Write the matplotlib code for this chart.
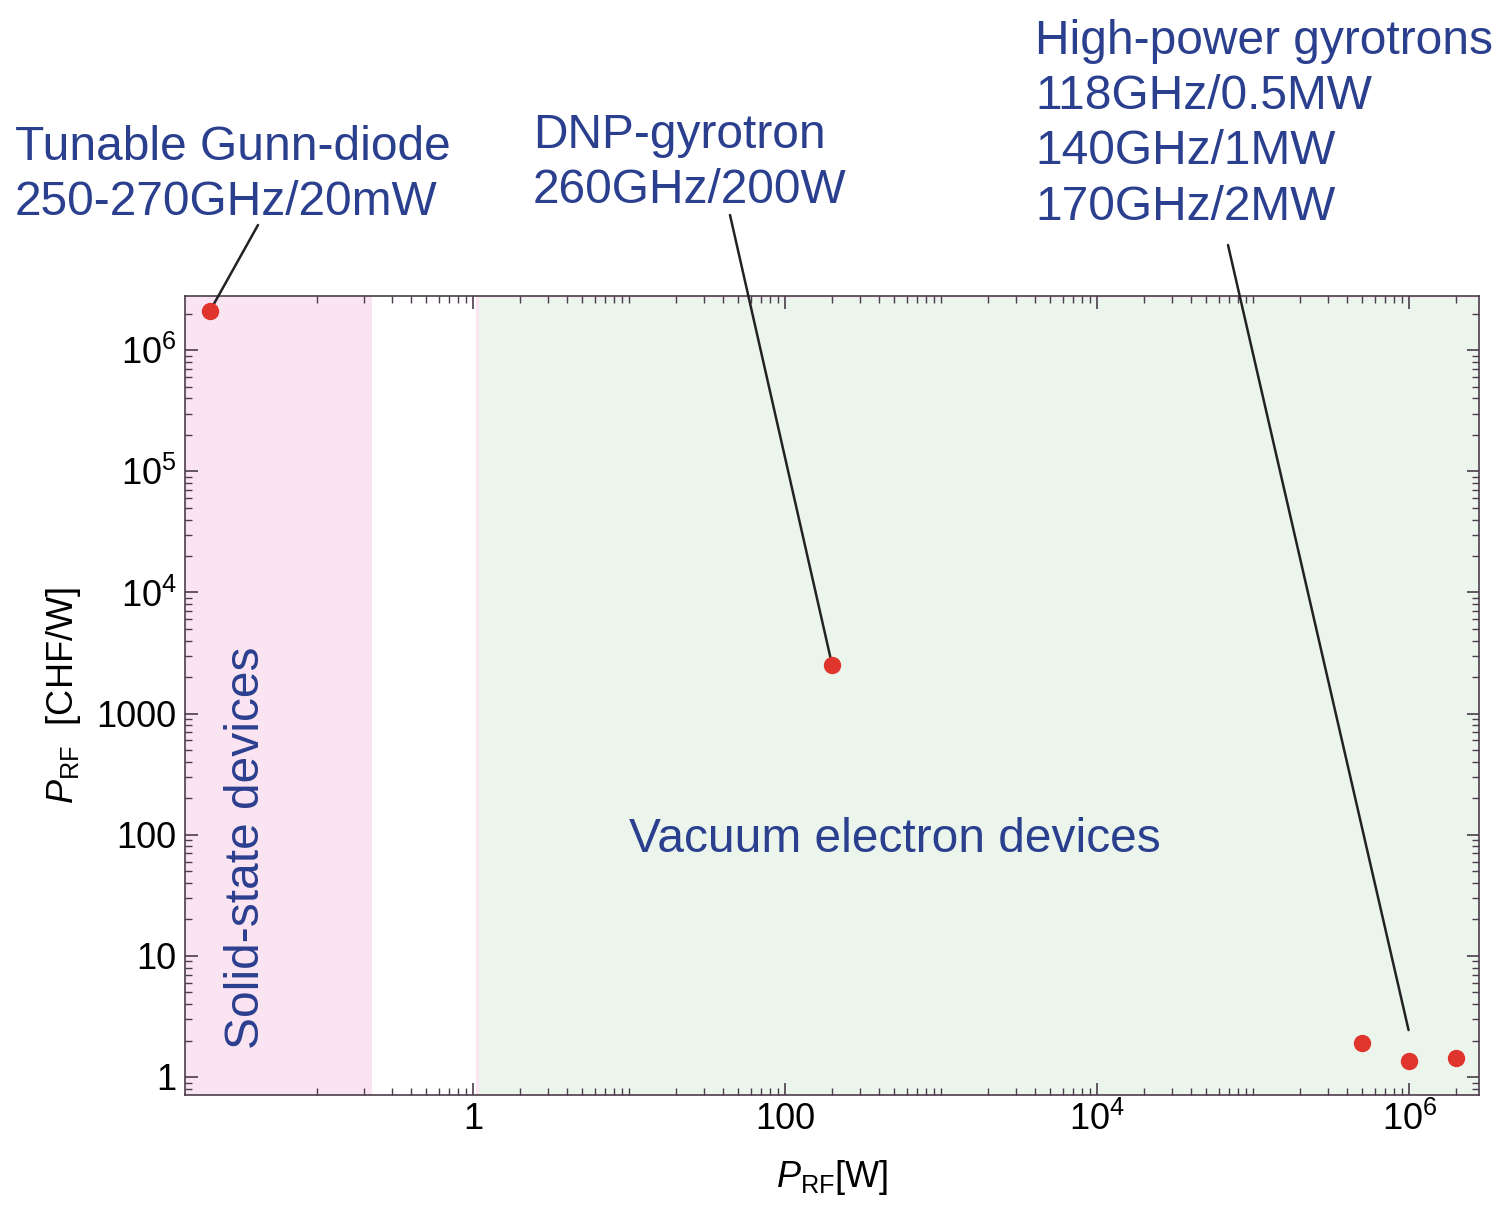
import matplotlib
matplotlib.use("Agg")
import numpy as np
from matplotlib import pyplot as plt
from matplotlib.ticker import FixedLocator, FixedFormatter, NullFormatter

plt.rcParams['font.family'] = ['Liberation Sans', 'DejaVu Sans']
plt.rcParams['mathtext.fontset'] = 'custom'
plt.rcParams['mathtext.rm'] = 'Liberation Sans'
plt.rcParams['mathtext.it'] = 'Liberation Sans:italic'

# Dati: potenza RF [W] e costo per watt [CHF/W]
devices = ['Gunn-diode', 'DNP-gyrotron', 'Gyrotron 118GHz', 'Gyrotron 140GHz', 'Gyrotron 170GHz']
power_w = [0.0205, 200, 5.0e5, 1.0e6, 2.0e6]
cost_per_w = [2.1e6, 2500, 1.9, 1.36, 1.44]

x_major = [1, 100, 1e4, 1e6]
x_major_labels = ['1', '100', r'$\mathregular{10^4}$', r'$\mathregular{10^6}$']
y_major = [1, 10, 100, 1000, 1e4, 1e5, 1e6]
y_major_labels = ['1', '10', '100', '1000', r'$\mathregular{10^4}$',
                  r'$\mathregular{10^5}$', r'$\mathregular{10^6}$']

solid_state_range = (0.01, 0.225)
vacuum_range = (1.05, 1e7)

text_blue = '#2b3f8f'
spine_col = '#4a3d4a'

fig = plt.figure(figsize=(14.99, 12.05), dpi=100)
ax = fig.add_axes([185 / 1499, 1 - 1095 / 1205, (1479 - 185) / 1499, (1095 - 296) / 1205])
ax.set_xscale('log')
ax.set_yscale('log')
ax.set_xlim(0.0142, 2.8e6)
ax.set_ylim(0.71, 2.8e6)

# Regioni colorate
ax.axvspan(*solid_state_range, color='#fbe4f1', lw=0, zorder=0)
ax.axvspan(*vacuum_range, facecolor='#ebf5ec', edgecolor='#fbe4f1', lw=2, zorder=0)

ax.plot(power_w, cost_per_w, 'o', color='#e0352c', ms=11.5, zorder=5, clip_on=False)

# Tick
x_minor = [k * 10.0 ** n for n in range(-1, 7) for k in range(1, 10) if k * 10.0 ** n not in x_major]
y_minor = [k * 10.0 ** n for n in range(-1, 7) for k in range(1, 10) if k * 10.0 ** n not in y_major]
ax.xaxis.set_major_locator(FixedLocator(x_major))
ax.xaxis.set_major_formatter(FixedFormatter(x_major_labels))
ax.xaxis.set_minor_locator(FixedLocator(x_minor))
ax.xaxis.set_minor_formatter(NullFormatter())
ax.yaxis.set_major_locator(FixedLocator(y_major))
ax.yaxis.set_major_formatter(FixedFormatter(y_major_labels))
ax.yaxis.set_minor_locator(FixedLocator(y_minor))
ax.yaxis.set_minor_formatter(NullFormatter())
ax.tick_params(which='both', direction='in', top=True, right=True, color=spine_col, labelsize=26)
ax.tick_params(which='major', length=9, width=1.2)
ax.tick_params(which='minor', length=5, width=1.0)
ax.tick_params(axis='x', pad=5)
ax.tick_params(axis='y', pad=6)
for s in ax.spines.values():
    s.set_color(spine_col)
    s.set_linewidth(1.2)

ax.set_xlabel(r'$P_{\rm RF}$[W]', fontsize=26, labelpad=14)
ax.set_ylabel(r'$P_{\rm RF}$  [CHF/W]', fontsize=26, labelpad=10)

# Testi nelle regioni
fs = 34.5
ax.text(0.035, 78, 'Solid-state devices', rotation=90, color=text_blue, fontsize=fs,
        ha='center', va='center')
ax.text(505, 92, 'Vacuum electron devices', color=text_blue, fontsize=fs,
        ha='center', va='center')

# Etichette in alto (baseline dell'ultima riga, in pixel della figura)
fig.text(15, 1205 - 215, 'Tunable Gunn-diode\n250-270GHz/20mW', transform=None,
         color=text_blue, fontsize=fs, ha='left', va='baseline', linespacing=1.3)
fig.text(533, 1205 - 203, 'DNP-gyrotron\n260GHz/200W', transform=None,
         color=text_blue, fontsize=fs, ha='left', va='baseline', linespacing=1.3)
fig.text(1035, 1205 - 220, 'High-power gyrotrons\n118GHz/0.5MW\n140GHz/1MW\n170GHz/2MW',
         transform=None, color=text_blue, fontsize=fs, ha='left', va='baseline', linespacing=1.3)

line_kw = dict(arrowstyle='-', color='#222222', lw=1.8, shrinkA=0, shrinkB=0)
ax.annotate('', xy=(power_w[0], cost_per_w[0]), xytext=(258, 1205 - 225),
            textcoords='figure pixels', arrowprops=line_kw, annotation_clip=False)
ax.annotate('', xy=(power_w[1], cost_per_w[1]), xytext=(730, 1205 - 215),
            textcoords='figure pixels', arrowprops=line_kw, annotation_clip=False)
ax.annotate('', xy=(9.9e5, 2.44), xytext=(1228, 1205 - 245),
            textcoords='figure pixels', arrowprops=line_kw, annotation_clip=False)

fig.savefig('out.png', dpi=100)
